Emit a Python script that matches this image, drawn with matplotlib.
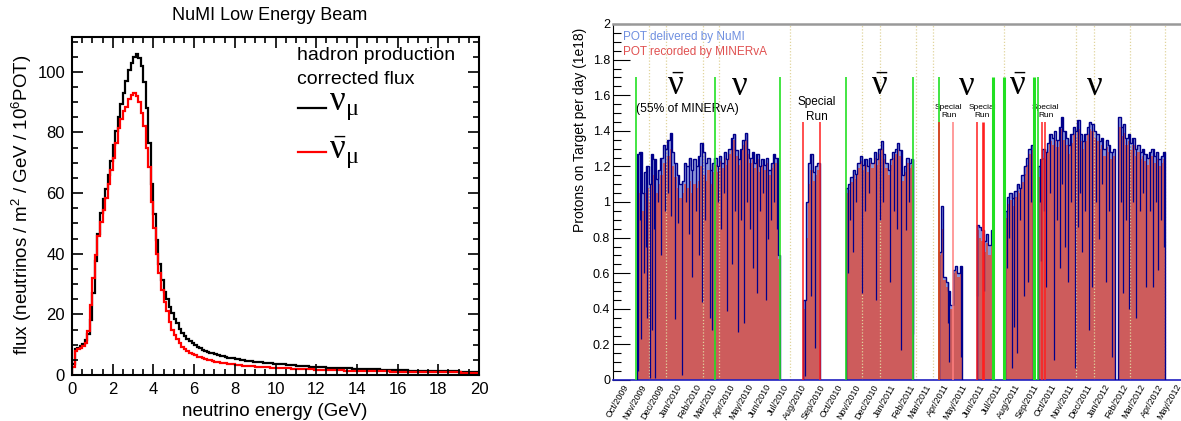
import numpy as np
import pandas as pd
import matplotlib
matplotlib.use("Agg")
import matplotlib.pyplot as plt
import matplotlib.dates as mdates
from matplotlib.ticker import MultipleLocator, FormatStrFormatter
from matplotlib.lines import Line2D

plt.rcParams['font.family'] = ['Liberation Sans', 'DejaVu Sans']
plt.rcParams['mathtext.fontset'] = 'custom'
plt.rcParams['mathtext.rm'] = 'Liberation Serif'
plt.rcParams['mathtext.it'] = 'Liberation Serif'
plt.rcParams['mathtext.default'] = 'regular'

W, H = 1181, 421

# ---------------- left panel: flux, 0.125 GeV bins, 0-20 GeV ----------------
bin_width = 0.125
numu_flux = [3.5, 8.5, 9.0, 9.6, 10.2, 11.5, 13.5, 18.0,
             27.0, 37.5, 46.5, 53.5, 58.0, 61.5, 66.0, 70.5,
             76.0, 80.5, 85.0, 89.5, 93.0, 97.0, 100.5, 103.0,
             105.0, 106.0, 104.5, 102.0, 96.5, 88.0, 76.5, 63.0,
             53.0, 44.5, 36.5, 31.5, 27.5, 25.0, 22.5, 20.5,
             18.5, 17.0, 15.3, 13.8, 12.8, 11.9, 11.1, 10.5,
             9.9, 9.4, 8.9, 8.4, 8.0, 7.7, 7.4, 7.1,
             6.85, 6.6, 6.35, 6.15, 5.95, 5.75, 5.6, 5.45,
             5.3, 5.15, 5.0, 4.88, 4.76, 4.65, 4.55, 4.45,
             4.35, 4.26, 4.17, 4.08, 4.0, 3.92, 3.85, 3.78,
             3.7, 3.62, 3.55, 3.47, 3.4, 3.33, 3.26, 3.19,
             3.12, 3.05, 2.98, 2.91, 2.85, 2.79, 2.73, 2.68,
             2.63, 2.58, 2.54, 2.5, 2.46, 2.42, 2.38, 2.35,
             2.31, 2.28, 2.25, 2.22, 2.19, 2.16, 2.13, 2.1,
             2.07, 2.04, 2.01, 1.98, 1.95, 1.92, 1.89, 1.86,
             1.83, 1.8, 1.77, 1.74, 1.71, 1.68, 1.65, 1.62,
             1.59, 1.56, 1.53, 1.5, 1.48, 1.46, 1.44, 1.42,
             1.4, 1.38, 1.36, 1.34, 1.32, 1.3, 1.29, 1.27,
             1.26, 1.24, 1.23, 1.21, 1.2, 1.19, 1.17, 1.16,
             1.15, 1.14, 1.13, 1.12, 1.11, 1.1, 1.09, 1.08]
numubar_flux = [2.5, 8.0, 8.6, 9.0, 9.5, 10.5, 14.5, 23.0,
                32.0, 39.5, 46.0, 50.5, 54.5, 58.5, 63.0, 67.5,
                71.5, 76.5, 81.5, 84.5, 87.0, 88.5, 91.0, 92.5,
                93.0, 92.0, 90.0, 86.5, 82.0, 75.0, 68.5, 57.0,
                48.5, 40.0, 33.5, 28.0, 24.0, 21.0, 17.5, 15.0,
                13.2, 11.8, 10.4, 9.3, 8.5, 7.9, 7.4, 6.9,
                6.5, 6.1, 5.8, 5.5, 5.25, 5.0, 4.8, 4.6,
                4.42, 4.25, 4.1, 3.95, 3.82, 3.7, 3.58, 3.47,
                3.37, 3.28, 3.2, 3.12, 3.04, 2.97, 2.9, 2.84,
                2.78, 2.72, 2.66, 2.61, 2.56, 2.51, 2.46, 2.41,
                2.37, 2.33, 2.28, 2.24, 2.2, 2.16, 2.12, 2.08,
                2.04, 2.0, 1.97, 1.93, 1.9, 1.87, 1.83, 1.8,
                1.77, 1.74, 1.71, 1.68, 1.65, 1.62, 1.6, 1.57,
                1.55, 1.52, 1.5, 1.47, 1.45, 1.43, 1.41, 1.39,
                1.37, 1.35, 1.33, 1.31, 1.29, 1.27, 1.25, 1.24,
                1.22, 1.2, 1.19, 1.17, 1.16, 1.14, 1.13, 1.11,
                1.1, 1.08, 1.07, 1.06, 1.04, 1.03, 1.02, 1.01,
                1.0, 0.99, 0.98, 0.96, 0.95, 0.94, 0.93, 0.92,
                0.91, 0.9, 0.89, 0.88, 0.87, 0.86, 0.85, 0.84,
                0.83, 0.82, 0.82, 0.81, 0.8, 0.79, 0.79, 0.78]

# ---------------- right panel: POT per day (1e18), 4-day bins ----------------
start_a = '2009-10-12'
deliv_a = [1.27, 1.28, 1.05, 1.17, 1.20, 1.10, 1.27, 1.24, 1.13, 1.18,
           1.25, 1.32, 1.30, 1.35, 1.39, 1.28, 1.22, 1.15, 1.10, 1.12,
           1.22, 1.20, 1.25, 1.18, 1.24, 1.20, 1.26, 1.33, 1.28, 1.22,
           1.25, 1.18, 1.22, 1.25, 1.20, 1.26, 1.22, 1.28, 1.24, 1.30,
           1.36, 1.38, 1.29, 1.24, 1.30, 1.35, 1.39, 1.30, 1.25, 1.28,
           1.22, 1.27, 1.20, 1.24, 1.21, 1.25, 1.18, 1.22, 1.27, 1.25,
           0.70]
rec_a = [1.00, 1.05, 0.95, 1.05, 1.08, 1.00, 1.12, 1.15, 1.05, 1.10,
         1.15, 1.22, 1.22, 1.26, 1.30, 1.20, 1.14, 1.08, 1.02, 1.05,
         1.10, 1.08, 1.12, 1.05, 1.10, 1.08, 1.12, 1.20, 1.15, 1.12,
         1.18, 1.10, 1.17, 1.21, 1.17, 1.23, 1.19, 1.25, 1.21, 1.27,
         1.32, 1.35, 1.26, 1.21, 1.27, 1.32, 1.35, 1.27, 1.22, 1.25,
         1.19, 1.24, 1.17, 1.21, 1.18, 1.22, 1.15, 1.19, 1.24, 1.22,
         0.68]
start_b = '2010-07-23'
deliv_b = [0.45, 1.00, 1.22, 1.27, 1.17, 1.20, 1.22]
rec_b = [0.40, 0.80, 1.10, 1.18, 1.12, 1.15, 1.18]
start_c = '2010-10-03'
deliv_c = [1.08, 1.10, 1.14, 1.18, 1.16, 1.22, 1.26, 1.21, 1.24, 1.20,
           1.25, 1.22, 1.28, 1.24, 1.30, 1.34, 1.27, 1.22, 1.18, 1.24,
           1.28, 1.30, 1.33, 1.29, 1.15, 1.20, 1.25, 1.22, 1.24]
rec_c = [1.05, 1.07, 1.11, 1.15, 1.13, 1.19, 1.23, 1.18, 1.21, 1.17,
         1.22, 1.19, 1.25, 1.21, 1.27, 1.30, 1.24, 1.19, 1.15, 1.21,
         1.25, 1.27, 1.29, 1.26, 1.12, 1.17, 1.22, 1.19, 1.21]
start_d = '2011-03-11'
deliv_d = [0.72, 0.98, 0.58, 0.55, 0.50, 0.42, 0.62, 0.64, 0.60, 0.64]
rec_d = [0.70, 0.85, 0.56, 0.52, 0.48, 0.40, 0.60, 0.61, 0.58, 0.62]
start_e = '2011-05-15'
deliv_e = [0.87, 0.86, 0.84, 0.78, 0.82, 0.76, 0.84]
rec_e = [0.84, 0.80, 0.78, 0.72, 0.77, 0.70, 0.80]
start_f = '2011-07-02'
deliv_f = [0.95, 1.03, 1.05, 1.02, 1.06, 1.10, 1.08, 1.15, 1.20, 1.25, 1.30, 1.32]
rec_f = [0.91, 0.99, 1.01, 0.98, 1.03, 1.06, 1.05, 1.11, 1.16, 1.21, 1.27, 1.29]
start_g = '2011-08-27'
deliv_g = [1.20, 1.24, 1.30, 1.28, 1.33, 1.38, 1.36, 1.40, 1.35, 1.42,
           1.48, 1.40, 1.36, 1.32, 1.38, 1.42, 1.40, 1.46, 1.38, 1.34,
           1.38, 1.42, 1.45, 1.44, 1.40, 1.38, 1.34, 1.36, 1.30, 1.35,
           1.32, 1.28, 1.30]
rec_g = [1.14, 1.19, 1.25, 1.24, 1.28, 1.34, 1.32, 1.35, 1.31, 1.37,
         1.41, 1.35, 1.32, 1.27, 1.33, 1.38, 1.36, 1.41, 1.34, 1.30,
         1.34, 1.38, 1.41, 1.40, 1.36, 1.34, 1.30, 1.32, 1.26, 1.31,
         1.28, 1.24, 1.26]
start_h = '2012-01-12'
deliv_h = [1.48, 1.42, 1.44, 1.36, 1.38, 1.33, 1.36, 1.30, 1.32, 1.28,
           1.30, 1.27, 1.25, 1.28, 1.30, 1.26, 1.28, 1.24, 1.26, 1.28]
rec_h = [1.42, 1.37, 1.39, 1.32, 1.34, 1.29, 1.32, 1.26, 1.28, 1.24,
         1.26, 1.23, 1.21, 1.24, 1.26, 1.22, 1.24, 1.20, 1.22, 1.24]

# single days with low delivered POT
low_days = ['2009-10-14', '2009-10-16', '2009-10-19', '2009-10-23', '2009-10-26', '2009-10-28',
            '2009-11-02', '2009-11-06', '2009-11-09', '2009-11-12', '2009-11-17', '2009-11-22',
            '2009-11-28', '2009-12-04', '2009-12-09', '2009-12-15', '2009-12-21', '2009-12-28',
            '2010-01-03', '2010-01-08', '2010-01-13', '2010-01-20', '2010-01-25', '2010-01-30',
            '2010-02-05', '2010-02-13', '2010-02-17', '2010-02-26', '2010-03-04', '2010-03-09',
            '2010-03-15', '2010-03-22', '2010-03-28', '2010-04-02', '2010-04-07', '2010-04-12',
            '2010-04-17', '2010-04-22', '2010-04-27', '2010-05-05', '2010-05-10', '2010-05-14',
            '2010-05-19', '2010-05-24', '2010-05-29', '2010-06-03', '2010-06-08',
            '2010-07-26', '2010-08-04', '2010-08-11',
            '2010-10-06', '2010-10-10', '2010-10-15', '2010-10-21', '2010-10-30', '2010-11-05',
            '2010-11-12', '2010-11-23', '2010-11-30', '2010-12-06', '2010-12-17', '2010-12-24',
            '2010-12-29', '2011-01-05', '2011-01-13', '2011-01-19', '2011-01-26',
            '2011-03-26', '2011-03-28', '2011-04-18',
            '2011-05-15', '2011-05-27',
            '2011-07-05', '2011-07-08', '2011-07-13', '2011-07-18', '2011-07-22', '2011-07-27',
            '2011-08-03', '2011-08-10', '2011-08-15',
            '2011-08-30', '2011-09-02', '2011-09-06', '2011-09-10', '2011-09-16', '2011-09-23',
            '2011-09-28', '2011-10-03', '2011-10-07', '2011-10-12', '2011-10-17', '2011-10-22',
            '2011-10-29', '2011-11-03', '2011-11-07', '2011-11-11', '2011-11-16', '2011-11-23',
            '2011-11-28', '2011-12-05', '2011-12-10', '2011-12-15', '2011-12-22', '2011-12-27',
            '2012-01-01',
            '2012-01-16', '2012-01-20', '2012-01-25', '2012-01-30', '2012-02-05', '2012-02-11',
            '2012-02-17', '2012-02-22', '2012-02-28', '2012-03-05', '2012-03-11', '2012-03-15',
            '2012-03-19', '2012-03-24', '2012-03-29']
low_pot = [0.05, 0.90, 0.23, 0.60, 0.75, 0.35,
           0.01, 0.28, 0.85, 0.01, 1.00, 0.70,
           0.95, 1.05, 0.92, 0.34, 0.88, 0.03,
           1.00, 0.82, 0.58, 0.95, 0.70, 0.44,
           0.90, 0.35, 0.28, 1.00, 0.85, 1.05,
           0.39, 0.65, 0.95, 0.27, 0.90, 0.32,
           1.00, 0.85, 0.63, 0.49, 0.95, 1.05,
           0.45, 0.79, 0.90, 1.00, 0.85,
           0.02, 0.47, 0.18,
           0.60, 0.90, 0.72, 1.00, 0.49, 0.95,
           1.05, 0.45, 0.90, 1.00, 0.55, 0.95,
           0.85, 0.17, 0.84, 1.00, 0.26,
           0.32, 0.10, 0.13,
           0.47, 0.50,
           0.63, 0.80, 0.07, 0.30, 0.15, 0.90,
           0.47, 0.55, 1.00,
           1.00, 0.67, 0.95, 0.52, 1.05, 0.11,
           0.90, 0.63, 1.10, 0.75, 0.55, 1.00,
           0.07, 0.86, 1.05, 0.72, 0.95, 0.28,
           0.52, 1.00, 0.79, 1.10, 0.55, 0.95,
           0.13,
           1.00, 0.49, 0.90, 0.40, 1.00, 0.35,
           0.95, 1.05, 0.52, 0.95, 0.52, 1.00,
           0.62, 0.90, 0.75]

# run boundaries and markers
mode_changes = ['2009-10-11', '2010-02-22', '2010-06-14', '2010-10-03', '2011-01-27',
                '2011-03-11', '2011-08-27']
mode_changes_thick = ['2011-06-11', '2011-07-01', '2011-08-20']
special_runs = ['2010-07-23', '2010-08-20', '2011-03-11', '2011-05-15', '2011-09-03', '2011-09-09']
special_runs_thick = ['2011-05-25']
special_runs_faint = ['2011-04-04']
dotted_months = ['2009-11-01', '2009-12-01', '2010-02-01', '2010-03-01', '2010-07-01',
                 '2010-11-01', '2010-12-01', '2011-02-01', '2011-03-01', '2011-07-01',
                 '2011-11-01', '2011-12-01', '2012-02-01', '2012-04-01']
month_ticks = pd.date_range('2009-10-01', '2012-05-01', freq='MS')

beam_labels = [r'$\bar{\nu}$', r'$\nu$', r'$\bar{\nu}$', r'$\nu$', r'$\bar{\nu}$', r'$\nu$']
beam_label_dates = ['2009-12-18', '2010-04-05', '2010-11-30', '2011-04-27', '2011-07-25', '2011-12-02']
special_label_dates = ['2011-03-28', '2011-05-24', '2011-09-10']


def f(x, y):
    return x / W, 1 - y / H


def box(x0, y0, x1, y1):
    return [x0 / W, 1 - y1 / H, (x1 - x0) / W, (y1 - y0) / H]


fig = plt.figure(figsize=(W / 100, H / 100), dpi=100)

# ---------------- left panel ----------------
ax1 = fig.add_axes(box(72, 37, 479, 375))
edges = np.arange(len(numu_flux) + 1) * bin_width
ax1.stairs(numu_flux, edges, color='black', lw=1.6)
ax1.stairs(numubar_flux, edges, color='red', lw=1.6)
ax1.set_xlim(0, 20)
ax1.set_ylim(0, 111.5)
ax1.xaxis.set_major_locator(MultipleLocator(2))
ax1.xaxis.set_minor_locator(MultipleLocator(0.5))
ax1.yaxis.set_major_locator(MultipleLocator(20))
ax1.yaxis.set_minor_locator(MultipleLocator(5))
ax1.tick_params(which='both', direction='in', top=True, right=True, labelsize=12, width=1.2)
ax1.tick_params(which='major', length=8, pad=5)
ax1.tick_params(which='minor', length=4)
for s in ax1.spines.values():
    s.set_linewidth(1.5)

fig.text(*f(270, 16), 'NuMI Low Energy Beam', fontsize=13, ha='center', va='center')
fig.text(*f(275, 411), 'neutrino energy (GeV)', fontsize=13.5, ha='center', va='center')
fig.text(*f(22, 205), 'flux (neutrinos / m$^{2}$ / GeV / 10$^{6}$POT)', fontsize=13.5,
         rotation=90, ha='center', va='center')
fig.text(*f(297, 55), 'hadron production', fontsize=14, va='center')
fig.text(*f(297, 79), 'corrected flux', fontsize=14, va='center')
fig.add_artist(Line2D([298 / W, 326 / W], [1 - 108 / H] * 2, color='black', lw=1.6))
fig.add_artist(Line2D([298 / W, 326 / W], [1 - 152 / H] * 2, color='red', lw=1.6))
fig.text(*f(329, 110), r'$\nu_{\mu}$', fontsize=25, va='baseline', family='Liberation Serif')
fig.text(*f(329, 159), r'$\bar{\nu}_{\mu}$', fontsize=25, va='baseline', family='Liberation Serif')

# ---------------- right panel ----------------
ax2 = fig.add_axes(box(613, 24, 1201, 380))
navy = '#00008b'
periods = [(start_a, deliv_a, rec_a), (start_b, deliv_b, rec_b), (start_c, deliv_c, rec_c),
           (start_d, deliv_d, rec_d), (start_e, deliv_e, rec_e), (start_f, deliv_f, rec_f),
           (start_g, deliv_g, rec_g), (start_h, deliv_h, rec_h)]
period_edges = []
for start, deliv, rec in periods:
    e = mdates.date2num(pd.date_range(start, periods=len(deliv) + 1, freq='4D'))
    period_edges.append((e, deliv))
    ax2.stairs(deliv, e, fill=True, color='#8d96d8', lw=0, zorder=1)
    ax2.stairs(rec, e, fill=True, color='#cd5c5c', lw=0, zorder=2)
    ax2.stairs(deliv, e, color=navy, lw=1.0, zorder=3)

# low days drawn down from the level of their bin
for day, val in zip(low_days, low_pot):
    x = mdates.date2num(pd.Timestamp(day)) + 0.5
    for e, deliv in period_edges:
        if e[0] <= x < e[-1]:
            level = deliv[np.searchsorted(e, x) - 1]
            ax2.vlines(x, val, level, color=navy, lw=0.9, zorder=3)

to_num = lambda ds: mdates.date2num(pd.to_datetime(ds))
ax2.vlines(to_num(dotted_months), 0, 2, colors='#e0d49c', linestyles=(0, (1, 1.5)), lw=0.9, zorder=2.5)
ax2.vlines(to_num(mode_changes), 0, 1.7, colors='#22e022', lw=1.2, zorder=4)
ax2.vlines(to_num(mode_changes_thick), 0, 1.7, colors='#22e022', lw=2.2, zorder=4)
ax2.vlines(to_num(special_runs), 0, 1.45, colors='#ff1f1f', lw=1.1, zorder=4.5)
ax2.vlines(to_num(special_runs_thick), 0, 1.45, colors='#ff1f1f', lw=1.9, zorder=4.5)
ax2.vlines(to_num(special_runs_faint), 0, 1.45, colors='#ff8080', lw=1.1, zorder=4.5)

for d, lab in zip(to_num(beam_label_dates), beam_labels):
    ax2.text(d, 1.6, lab, fontsize=25, ha='center', va='baseline', zorder=5,
             family='Liberation Serif')
ax2.text(to_num(['2009-10-11'])[0], 1.525, '(55% of MINERvA)', fontsize=8.7, ha='left', va='center')
ax2.text(to_num(['2010-08-15'])[0], 1.52, 'Special\nRun', fontsize=8.5, ha='center', va='center',
         linespacing=1.3)
for d in to_num(special_label_dates):
    ax2.text(d, 1.51, 'Special\nRun', fontsize=6, ha='center', va='center', linespacing=1.2)

ax2.set_xlim(to_num(['2009-09-01'])[0], to_num(['2012-06-01'])[0])
ax2.set_ylim(0, 2)
ax2.set_xticks(mdates.date2num(month_ticks))
ax2.xaxis.set_major_formatter(mdates.DateFormatter('%b/%Y'))
ax2.tick_params(axis='x', length=0, pad=2, labelsize=6.5)
plt.setp(ax2.get_xticklabels(), rotation=60, ha='right', va='top')
ax2.yaxis.set_major_locator(MultipleLocator(0.2))
ax2.yaxis.set_minor_locator(MultipleLocator(0.05))
ax2.yaxis.set_major_formatter(FormatStrFormatter('%g'))
ax2.tick_params(axis='y', which='both', direction='in', labelsize=9, pad=2, width=0.8)
ax2.tick_params(axis='y', which='major', length=12)
ax2.tick_params(axis='y', which='minor', length=6)
ax2.spines['top'].set_color('#999999')
ax2.spines['top'].set_linewidth(1.8)
ax2.spines['right'].set_visible(False)
ax2.spines['bottom'].set_color('#2020c0')
ax2.spines['bottom'].set_linewidth(1.2)
ax2.spines['left'].set_linewidth(0.8)

fig.text(*f(623, 37), 'POT delivered by NuMI', fontsize=8.5, color='#7090e0', va='center')
fig.text(*f(623, 52), 'POT recorded by MINERvA', fontsize=8.5, color='#e05050', va='center')
fig.text(*f(580, 28), 'Protons on Target per day (1e18)', fontsize=10, rotation=90,
         ha='center', va='top')

fig.savefig('out.png', dpi=100)
